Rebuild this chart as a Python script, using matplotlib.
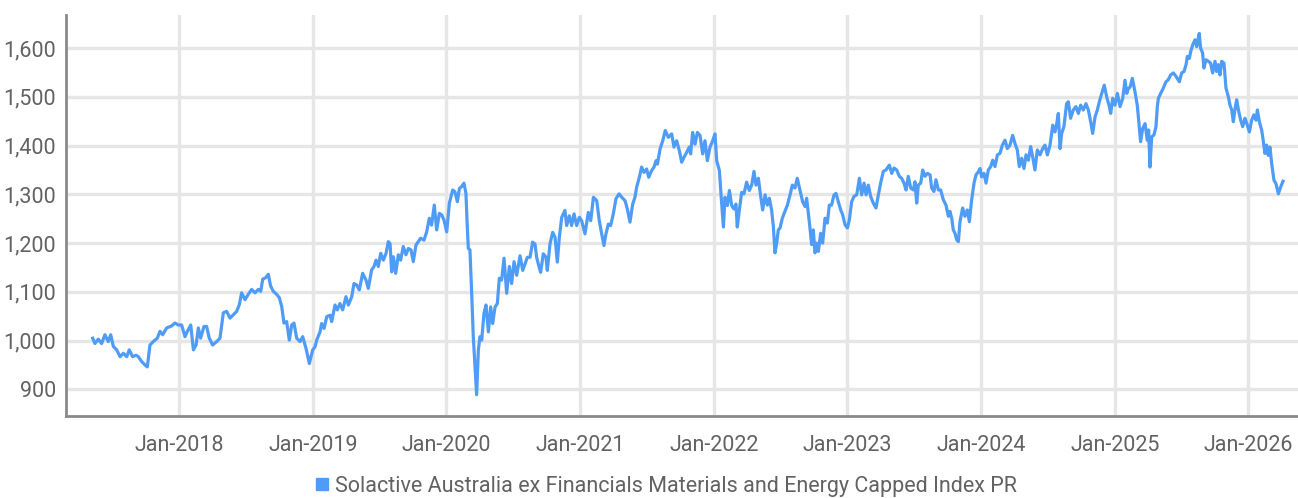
import numpy as np
import matplotlib
matplotlib.use("Agg")
import matplotlib.pyplot as plt
import matplotlib.dates as mdates
from matplotlib.lines import Line2D
from matplotlib.ticker import FuncFormatter

# time as decimal year
year_frac = [
    2017.350, 2017.367, 2017.392, 2017.417, 2017.442, 2017.467, 2017.485, 2017.505, 2017.530, 2017.555,
    2017.580, 2017.605, 2017.624, 2017.649, 2017.674, 2017.692, 2017.717, 2017.742, 2017.759, 2017.779,
    2017.804, 2017.834, 2017.854, 2017.874, 2017.904, 2017.941, 2017.966, 2017.991, 2018.016, 2018.041,
    2018.059, 2018.084, 2018.104, 2018.124, 2018.141, 2018.158, 2018.183, 2018.203, 2018.223, 2018.248,
    2018.278, 2018.303, 2018.328, 2018.353, 2018.378, 2018.403, 2018.428, 2018.448, 2018.465, 2018.490,
    2018.515, 2018.540, 2018.565, 2018.590, 2018.608, 2018.623, 2018.645, 2018.665, 2018.682, 2018.702,
    2018.727, 2018.747, 2018.765, 2018.782, 2018.802, 2018.822, 2018.840, 2018.857, 2018.877, 2018.902,
    2018.922, 2018.947, 2018.972, 2018.997, 2019.014, 2019.027, 2019.052, 2019.064, 2019.082, 2019.102,
    2019.127, 2019.139, 2019.164, 2019.181, 2019.201, 2019.221, 2019.246, 2019.264, 2019.289, 2019.306,
    2019.326, 2019.346, 2019.371, 2019.396, 2019.413, 2019.438, 2019.456, 2019.471, 2019.488, 2019.506,
    2019.526, 2019.546, 2019.563, 2019.576, 2019.588, 2019.601, 2019.618, 2019.638, 2019.655, 2019.675,
    2019.695, 2019.713, 2019.733, 2019.750, 2019.770, 2019.788, 2019.805, 2019.830, 2019.850, 2019.870,
    2019.887, 2019.907, 2019.925, 2019.945, 2019.962, 2019.980, 2020.000, 2020.020, 2020.045, 2020.062,
    2020.080, 2020.095, 2020.112, 2020.129, 2020.144, 2020.154, 2020.162, 2020.174, 2020.187, 2020.199,
    2020.212, 2020.224, 2020.237, 2020.249, 2020.262, 2020.279, 2020.294, 2020.312, 2020.329, 2020.344,
    2020.362, 2020.379, 2020.394, 2020.411, 2020.429, 2020.449, 2020.469, 2020.486, 2020.504, 2020.524,
    2020.549, 2020.569, 2020.586, 2020.604, 2020.624, 2020.643, 2020.661, 2020.673, 2020.686, 2020.703,
    2020.723, 2020.743, 2020.753, 2020.773, 2020.793, 2020.811, 2020.828, 2020.843, 2020.861, 2020.885,
    2020.898, 2020.918, 2020.935, 2020.953, 2020.973, 2020.993, 2021.010, 2021.035, 2021.060, 2021.078,
    2021.098, 2021.123, 2021.142, 2021.160, 2021.177, 2021.192, 2021.210, 2021.227, 2021.247, 2021.267,
    2021.290, 2021.310, 2021.335, 2021.352, 2021.372, 2021.392, 2021.409, 2021.422, 2021.442, 2021.459,
    2021.477, 2021.497, 2021.512, 2021.534, 2021.552, 2021.567, 2021.577, 2021.597, 2021.617, 2021.636,
    2021.659, 2021.684, 2021.701, 2021.721, 2021.741, 2021.759, 2021.776, 2021.796, 2021.816, 2021.826,
    2021.841, 2021.859, 2021.876, 2021.896, 2021.916, 2021.933, 2021.951, 2021.971, 2021.991, 2022.008,
    2022.021, 2022.041, 2022.053, 2022.071, 2022.083, 2022.101, 2022.116, 2022.133, 2022.150, 2022.165,
    2022.175, 2022.190, 2022.208, 2022.225, 2022.245, 2022.265, 2022.283, 2022.300, 2022.315, 2022.333,
    2022.350, 2022.365, 2022.383, 2022.400, 2022.415, 2022.432, 2022.445, 2022.457, 2022.470, 2022.482,
    2022.495, 2022.512, 2022.532, 2022.550, 2022.570, 2022.587, 2022.607, 2022.624, 2022.644, 2022.664,
    2022.682, 2022.694, 2022.714, 2022.732, 2022.744, 2022.757, 2022.769, 2022.782, 2022.799, 2022.814,
    2022.832, 2022.849, 2022.864, 2022.881, 2022.899, 2022.914, 2022.931, 2022.949, 2022.964, 2022.981,
    2022.999, 2023.014, 2023.031, 2023.049, 2023.069, 2023.089, 2023.106, 2023.124, 2023.139, 2023.156,
    2023.173, 2023.193, 2023.213, 2023.231, 2023.248, 2023.268, 2023.288, 2023.313, 2023.331, 2023.348,
    2023.368, 2023.388, 2023.405, 2023.423, 2023.438, 2023.455, 2023.473, 2023.493, 2023.505, 2023.518,
    2023.530, 2023.548, 2023.563, 2023.580, 2023.598, 2023.618, 2023.630, 2023.647, 2023.662, 2023.680,
    2023.697, 2023.717, 2023.737, 2023.755, 2023.767, 2023.780, 2023.792, 2023.805, 2023.817, 2023.830,
    2023.842, 2023.862, 2023.879, 2023.897, 2023.912, 2023.929, 2023.947, 2023.962, 2023.979, 2023.992,
    2024.004, 2024.022, 2024.037, 2024.054, 2024.072, 2024.087, 2024.104, 2024.122, 2024.141, 2024.159,
    2024.179, 2024.196, 2024.216, 2024.236, 2024.254, 2024.271, 2024.286, 2024.304, 2024.321, 2024.336,
    2024.354, 2024.371, 2024.386, 2024.403, 2024.421, 2024.441, 2024.461, 2024.478, 2024.496, 2024.516,
    2024.536, 2024.553, 2024.566, 2024.578, 2024.591, 2024.603, 2024.620, 2024.640, 2024.653, 2024.670,
    2024.690, 2024.710, 2024.728, 2024.745, 2024.765, 2024.785, 2024.803, 2024.820, 2024.835, 2024.853,
    2024.870, 2024.885, 2024.903, 2024.922, 2024.940, 2024.960, 2024.970, 2024.985, 2025.002, 2025.020,
    2025.040, 2025.060, 2025.077, 2025.090, 2025.102, 2025.115, 2025.132, 2025.152, 2025.169, 2025.184,
    2025.194, 2025.209, 2025.227, 2025.244, 2025.254, 2025.264, 2025.277, 2025.294, 2025.309, 2025.319,
    2025.327, 2025.344, 2025.364, 2025.384, 2025.401, 2025.419, 2025.439, 2025.459, 2025.484, 2025.501,
    2025.519, 2025.534, 2025.544, 2025.559, 2025.569, 2025.584, 2025.601, 2025.614, 2025.626, 2025.633,
    2025.643, 2025.658, 2025.668, 2025.683, 2025.701, 2025.718, 2025.733, 2025.751, 2025.763, 2025.776,
    2025.788, 2025.801, 2025.818, 2025.833, 2025.851, 2025.863, 2025.876, 2025.888, 2025.901, 2025.913,
    2025.926, 2025.943, 2025.958, 2025.975, 2025.988, 2026.008, 2026.025, 2026.042, 2026.058, 2026.068,
    2026.083, 2026.100, 2026.113, 2026.124, 2026.137, 2026.149, 2026.162, 2026.175, 2026.192, 2026.207,
    2026.225, 2026.242, 2026.260,
]

index_level = [
    1005, 994, 1003, 994, 1012, 998, 1012, 988, 981, 967,
    974, 967, 981, 967, 970, 967, 957, 950, 946, 991,
    998, 1005, 1019, 1012, 1026, 1030, 1036, 1032, 1032, 1008,
    1019, 1032, 981, 991, 1026, 1005, 1029, 1029, 1005, 991,
    998, 1005, 1057, 1060, 1046, 1053, 1060, 1074, 1098, 1084,
    1095, 1105, 1098, 1105, 1101, 1126, 1129, 1136, 1112, 1101,
    1095, 1088, 1070, 1036, 1039, 1001, 1032, 1036, 1005, 998,
    1008, 984, 953, 981, 987, 1001, 1018, 1035, 1025, 1049,
    1052, 1039, 1073, 1063, 1076, 1063, 1090, 1073, 1090, 1117,
    1114, 1104, 1138, 1124, 1107, 1145, 1152, 1165, 1152, 1179,
    1165, 1179, 1203, 1199, 1141, 1172, 1138, 1176, 1165, 1193,
    1176, 1189, 1186, 1162, 1196, 1203, 1210, 1206, 1223, 1251,
    1237, 1278, 1227, 1261, 1258, 1247, 1223, 1282, 1309, 1305,
    1285, 1312, 1316, 1323, 1302, 1234, 1189, 1186, 1097, 1008,
    946, 889, 981, 1008, 1001, 1056, 1073, 1018, 1069, 1035,
    1069, 1076, 1128, 1124, 1169, 1097, 1152, 1117, 1162, 1134,
    1174, 1144, 1157, 1171, 1171, 1202, 1198, 1171, 1157, 1140,
    1178, 1171, 1144, 1198, 1222, 1212, 1161, 1212, 1253, 1267,
    1236, 1256, 1236, 1260, 1236, 1253, 1246, 1219, 1263, 1246,
    1294, 1287, 1246, 1219, 1195, 1219, 1239, 1236, 1260, 1291,
    1301, 1294, 1287, 1270, 1243, 1280, 1294, 1315, 1335, 1356,
    1345, 1352, 1335, 1349, 1356, 1369, 1362, 1393, 1410, 1431,
    1417, 1424, 1397, 1410, 1390, 1366, 1376, 1386, 1397, 1383,
    1427, 1403, 1427, 1421, 1383, 1410, 1369, 1397, 1410, 1424,
    1369, 1349, 1301, 1233, 1294, 1277, 1308, 1277, 1270, 1280,
    1233, 1267, 1304, 1301, 1325, 1308, 1319, 1347, 1319, 1333,
    1296, 1268, 1299, 1278, 1292, 1268, 1234, 1180, 1200, 1227,
    1231, 1251, 1265, 1278, 1299, 1319, 1313, 1333, 1309, 1285,
    1275, 1292, 1244, 1197, 1227, 1180, 1200, 1183, 1220, 1200,
    1251, 1241, 1278, 1278, 1299, 1302, 1285, 1268, 1258, 1238,
    1231, 1248, 1285, 1296, 1299, 1333, 1299, 1323, 1299, 1319,
    1296, 1282, 1272, 1299, 1323, 1347, 1350, 1360, 1343, 1354,
    1350, 1337, 1333, 1323, 1309, 1337, 1313, 1309, 1326, 1282,
    1319, 1323, 1350, 1337, 1343, 1340, 1313, 1306, 1330, 1309,
    1309, 1289, 1278, 1255, 1265, 1251, 1227, 1220, 1207, 1203,
    1244, 1272, 1255, 1268, 1244, 1288, 1323, 1340, 1346, 1353,
    1336, 1343, 1323, 1350, 1357, 1370, 1357, 1381, 1384, 1401,
    1411, 1394, 1401, 1421, 1404, 1391, 1357, 1374, 1353, 1381,
    1370, 1398, 1377, 1350, 1391, 1381, 1394, 1401, 1381, 1401,
    1442, 1428, 1445, 1466, 1394, 1425, 1439, 1486, 1490, 1456,
    1473, 1480, 1466, 1483, 1473, 1486, 1473, 1449, 1425, 1459,
    1473, 1490, 1507, 1524, 1500, 1480, 1466, 1497, 1483, 1507,
    1480, 1497, 1534, 1507, 1517, 1520, 1538, 1510, 1483, 1439,
    1408, 1435, 1445, 1411, 1432, 1356, 1418, 1422, 1439, 1480,
    1497, 1507, 1518, 1531, 1535, 1545, 1549, 1542, 1531, 1549,
    1552, 1566, 1583, 1579, 1593, 1607, 1617, 1603, 1621, 1630,
    1600, 1590, 1559, 1576, 1573, 1569, 1549, 1573, 1552, 1566,
    1545, 1573, 1569, 1518, 1500, 1483, 1473, 1449, 1476, 1494,
    1473, 1452, 1439, 1456, 1446, 1428, 1452, 1463, 1452, 1473,
    1449, 1432, 1408, 1384, 1401, 1380, 1397, 1363, 1329, 1322,
    1301, 1315, 1327,
]

y_ticks = [900, 1000, 1100, 1200, 1300, 1400, 1500, 1600]
series_name = "Solactive Australia ex Financials Materials and Energy Capped Index PR"

LINE_COLOR = "#4f9cf7"
GRID_COLOR = "#e6e6e6"
TEXT_COLOR = "#626262"
SPINE_COLOR = "#8a8a8a"

plt.rcParams["font.family"] = ["Roboto", "DejaVu Sans"]


def to_dates(t):
    t = np.asarray(t, dtype=float)
    secs = ((t - 2017.0) * 365.25 * 86400).astype("int64")
    return np.datetime64("2017-01-01T00:00:00") + secs.astype("timedelta64[s]")


dates = to_dates(year_frac)

fig = plt.figure(figsize=(12.98, 4.98), dpi=100)
ax = fig.add_axes([0.0508, 0.1653, 0.9492, 0.8047])

ax.plot(dates, index_level, color=LINE_COLOR, linewidth=2.3, solid_joinstyle="round")

ax.set_xlim(to_dates([2017.150])[0], to_dates([2026.372])[0])
ax.set_ylim(846, 1668)

ax.xaxis.set_major_locator(mdates.YearLocator())
ax.xaxis.set_major_formatter(mdates.DateFormatter("%b-%Y"))
ax.set_yticks(y_ticks)
ax.yaxis.set_major_formatter(FuncFormatter(lambda v, p: f"{int(v):,}"))

ax.grid(True, color=GRID_COLOR, linewidth=2.4)
ax.set_axisbelow(True)
ax.tick_params(axis="both", length=0, labelsize=15.5, labelcolor=TEXT_COLOR)
ax.tick_params(axis="x", pad=14)
ax.tick_params(axis="y", pad=7)

for side in ["top", "right"]:
    ax.spines[side].set_visible(False)
for side in ["left", "bottom"]:
    ax.spines[side].set_color(SPINE_COLOR)
    ax.spines[side].set_linewidth(2)

handle = Line2D([], [], color=LINE_COLOR, marker="s", linestyle="none", markersize=8)
fig.legend([handle], [series_name], loc="center", bbox_to_anchor=(0.513, 0.024),
           frameon=False, fontsize=15.5, labelcolor=TEXT_COLOR,
           handlelength=0.6, handletextpad=0.3, borderaxespad=0)

fig.savefig("out.png", dpi=100)
